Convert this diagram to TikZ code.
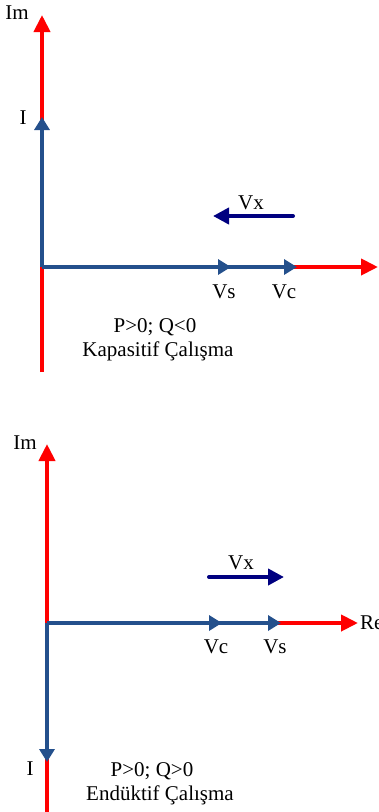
\documentclass[tikz,border=0pt]{standalone}
\usepackage{fontspec}
\setmainfont{Liberation Serif}
\usetikzlibrary{arrows.meta}
\definecolor{axred}{HTML}{FF0000}
\definecolor{phblue}{HTML}{24508C}
\definecolor{vxnavy}{HTML}{000080}
\begin{document}
\begin{tikzpicture}[x=1pt,y=-1pt,
  lbl/.style={font=\fontsize{21}{25}\selectfont, inner sep=0pt},
  axis/.style={draw=axred, line width=4pt, -{Triangle[length=17pt,width=16pt]}},
  phasor/.style={draw=phblue, line width=4pt, -{Triangle[length=13pt,width=15pt]}},
  vxarrow/.style={draw=vxnavy, line width=4pt, line cap=round, -{Triangle[length=16pt,width=16pt]}}]
\useasboundingbox (0,0) rectangle (379,812);
% ---------- top diagram ----------
\coordinate (O1) at (42,267);
\coordinate (imA) at (42,15);
\coordinate (botA) at (42,372);
\coordinate (reA) at (378,267);
\coordinate (IA) at (42,117);
\coordinate (VsA) at (231,267);
\coordinate (VcA) at (297,267);
\coordinate (VxAs) at (293,216);
\coordinate (VxAe) at (213,216);
\draw[axis] (botA) -- (imA);
\draw[axis] (O1) -- (reA);
\draw[phasor] (O1) -- (IA);
\draw[phasor] (O1) -- (VcA);
\draw[phasor] (O1) -- (VsA);
\draw[vxarrow] (VxAs) -- (VxAe);
\node[lbl] (lImA) at (17,13) {Im};
\node[lbl] (lIA) at (23,118) {I};
\node[lbl] (lVxA) at (251,203) {Vx};
\node[lbl] (lVsA) at (224,292) {Vs};
\node[lbl] (lVcA) at (284,292) {Vc};
\node[lbl] (lPA) at (155,327) {P>0; Q<0};
\node[lbl] (lKA) at (158,351) {Kapasitif Çalışma};
% ---------- bottom diagram ----------
\coordinate (O2) at (47,623);
\coordinate (imB) at (47,444);
\coordinate (botB) at (47,812);
\coordinate (reB) at (358,623);
\coordinate (IB) at (47,762);
\coordinate (VcB) at (222,623);
\coordinate (VsB) at (281,623);
\coordinate (VxBs) at (209,577);
\coordinate (VxBe) at (284,577);
\draw[axis] (botB) -- (imB);
\draw[axis] (O2) -- (reB);
\draw[phasor] (O2) -- (IB);
\draw[phasor] (O2) -- (VsB);
\draw[phasor] (O2) -- (VcB);
\draw[vxarrow] (VxBs) -- (VxBe);
\node[lbl] (lImB) at (25,443) {Im};
\node[lbl, anchor=west] (lReB) at (360,623) {Re};
\node[lbl] (lIB) at (30,769) {I};
\node[lbl] (lVxB) at (241,563) {Vx};
\node[lbl] (lVcB) at (216,647) {Vc};
\node[lbl] (lVsB) at (275,647) {Vs};
\node[lbl] (lPB) at (152,771) {P>0; Q>0};
\node[lbl] (lEB) at (160,795) {Endüktif Çalışma};
\end{tikzpicture}
\end{document}
